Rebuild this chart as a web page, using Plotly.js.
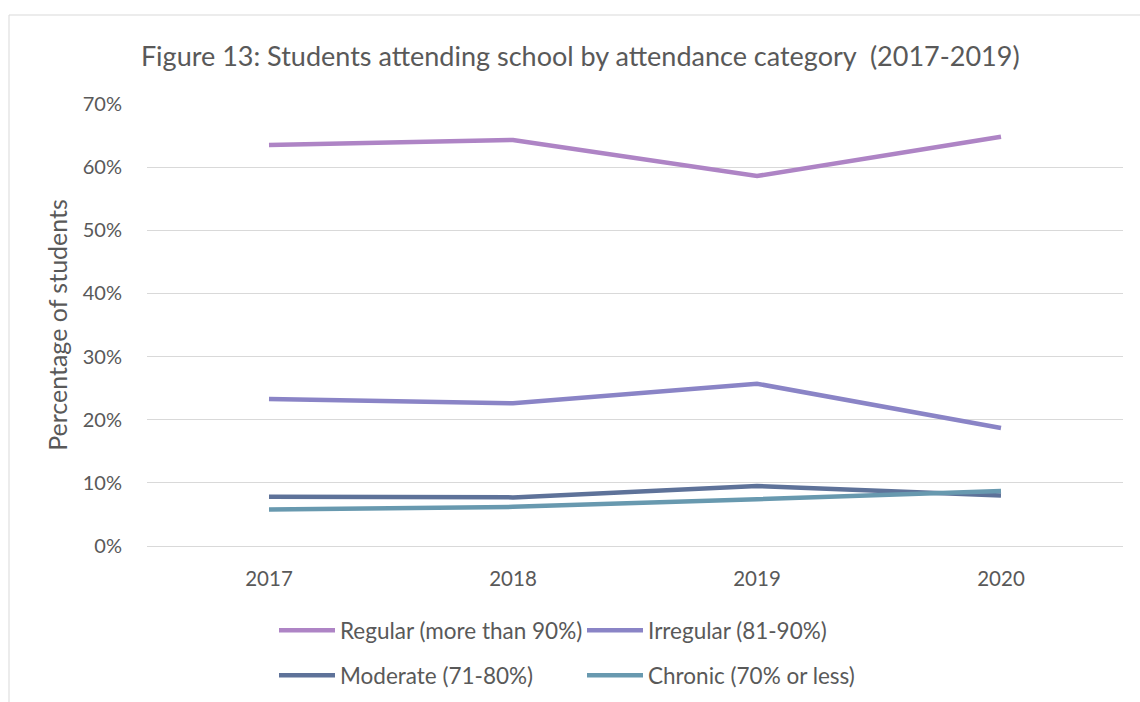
<!DOCTYPE html>
<html>
<head>
<meta charset="utf-8">
<script src="https://cdn.plot.ly/plotly-3.0.1.min.js"></script>
<style>html,body{margin:0;padding:0;background:#fff;}#chart{width:1140px;height:702px;}</style>
</head>
<body>
<div id="chart"></div>
<script>
const years = ['2017', '2018', '2019', '2020'];
const seriesNames = ['Regular (more than 90%)', 'Irregular (81-90%)', 'Moderate (71-80%)', 'Chronic (70% or less)'];
const regular = [0.635, 0.643, 0.586, 0.648];
const irregular = [0.233, 0.226, 0.257, 0.187];
const moderate = [0.078, 0.077, 0.095, 0.080];
const chronic = [0.058, 0.062, 0.074, 0.087];
const colors = ['#ae84c5', '#8a84c6', '#5e7299', '#6899af'];

const values = [regular, irregular, moderate, chronic];
const legendOf = ['legend', 'legend', 'legend2', 'legend2'];
const traces = values.map((v, i) => ({
  x: years, y: v, name: seriesNames[i], type: 'scatter', mode: 'lines',
  legend: legendOf[i],
  line: {color: colors[i], width: 4.5}
}));

const FONT = 'Lato, "Open Sans", sans-serif';
const legendBase = {
  orientation: 'h', xref: 'container', yref: 'container', x: 274/1140, xanchor: 'left',
  yanchor: 'top', entrywidth: 237, entrywidthmode: 'pixels', itemwidth: 56,
  font: {size: 22.5, color: '#595959', family: FONT}, traceorder: 'normal', bgcolor: 'rgba(0,0,0,0)'
};
const layout = {
  width: 1140, height: 702,
  margin: {l: 147, r: 17, t: 104, b: 156},
  paper_bgcolor: '#fff', plot_bgcolor: '#fff',
  font: {family: FONT, color: '#595959'},
  title: {text: 'Figure 13: Students attending school by attendance category\u00a0 (2017-2019)',
          font: {size: 27, color: '#595959', family: FONT},
          x: 0.509, xanchor: 'center', y: 1 - 57/702, yanchor: 'middle'},
  xaxis: {type: 'category', range: [-0.5, 3.5], showgrid: false, zeroline: false, showline: false,
          ticks: '', ticklabelstandoff: 18, tickfont: {size: 20.5, color: '#595959'}, fixedrange: true},
  yaxis: {range: [0, 0.7], dtick: 0.1, tickformat: '.0%', showgrid: true, gridcolor: '#d9d9d9', gridwidth: 1,
          zeroline: true, zerolinecolor: '#d9d9d9', zerolinewidth: 1, showline: false, ticks: '',
          ticklabelstandoff: 24, tickfont: {size: 20, color: '#595959'},
          title: {text: 'Percentage of students', font: {size: 25, color: '#595959'}, standoff: 8}},
  showlegend: true,
  legend: Object.assign({}, legendBase, {y: 1 - 609/702}),
  legend2: Object.assign({}, legendBase, {y: 1 - 654/702}),
  shapes: [{type: 'rect', xref: 'paper', yref: 'paper',
            x0: (9 - 147) / 976, x1: (1150 - 147) / 976,
            y0: (546 - 712) / 442, y1: (546 - 15) / 442,
            line: {color: '#d9d9d9', width: 1}, fillcolor: 'rgba(0,0,0,0)', layer: 'below'}]
};

Plotly.newPlot('chart', traces, layout, {displayModeBar: false, staticPlot: true});
</script>
</body>
</html>
